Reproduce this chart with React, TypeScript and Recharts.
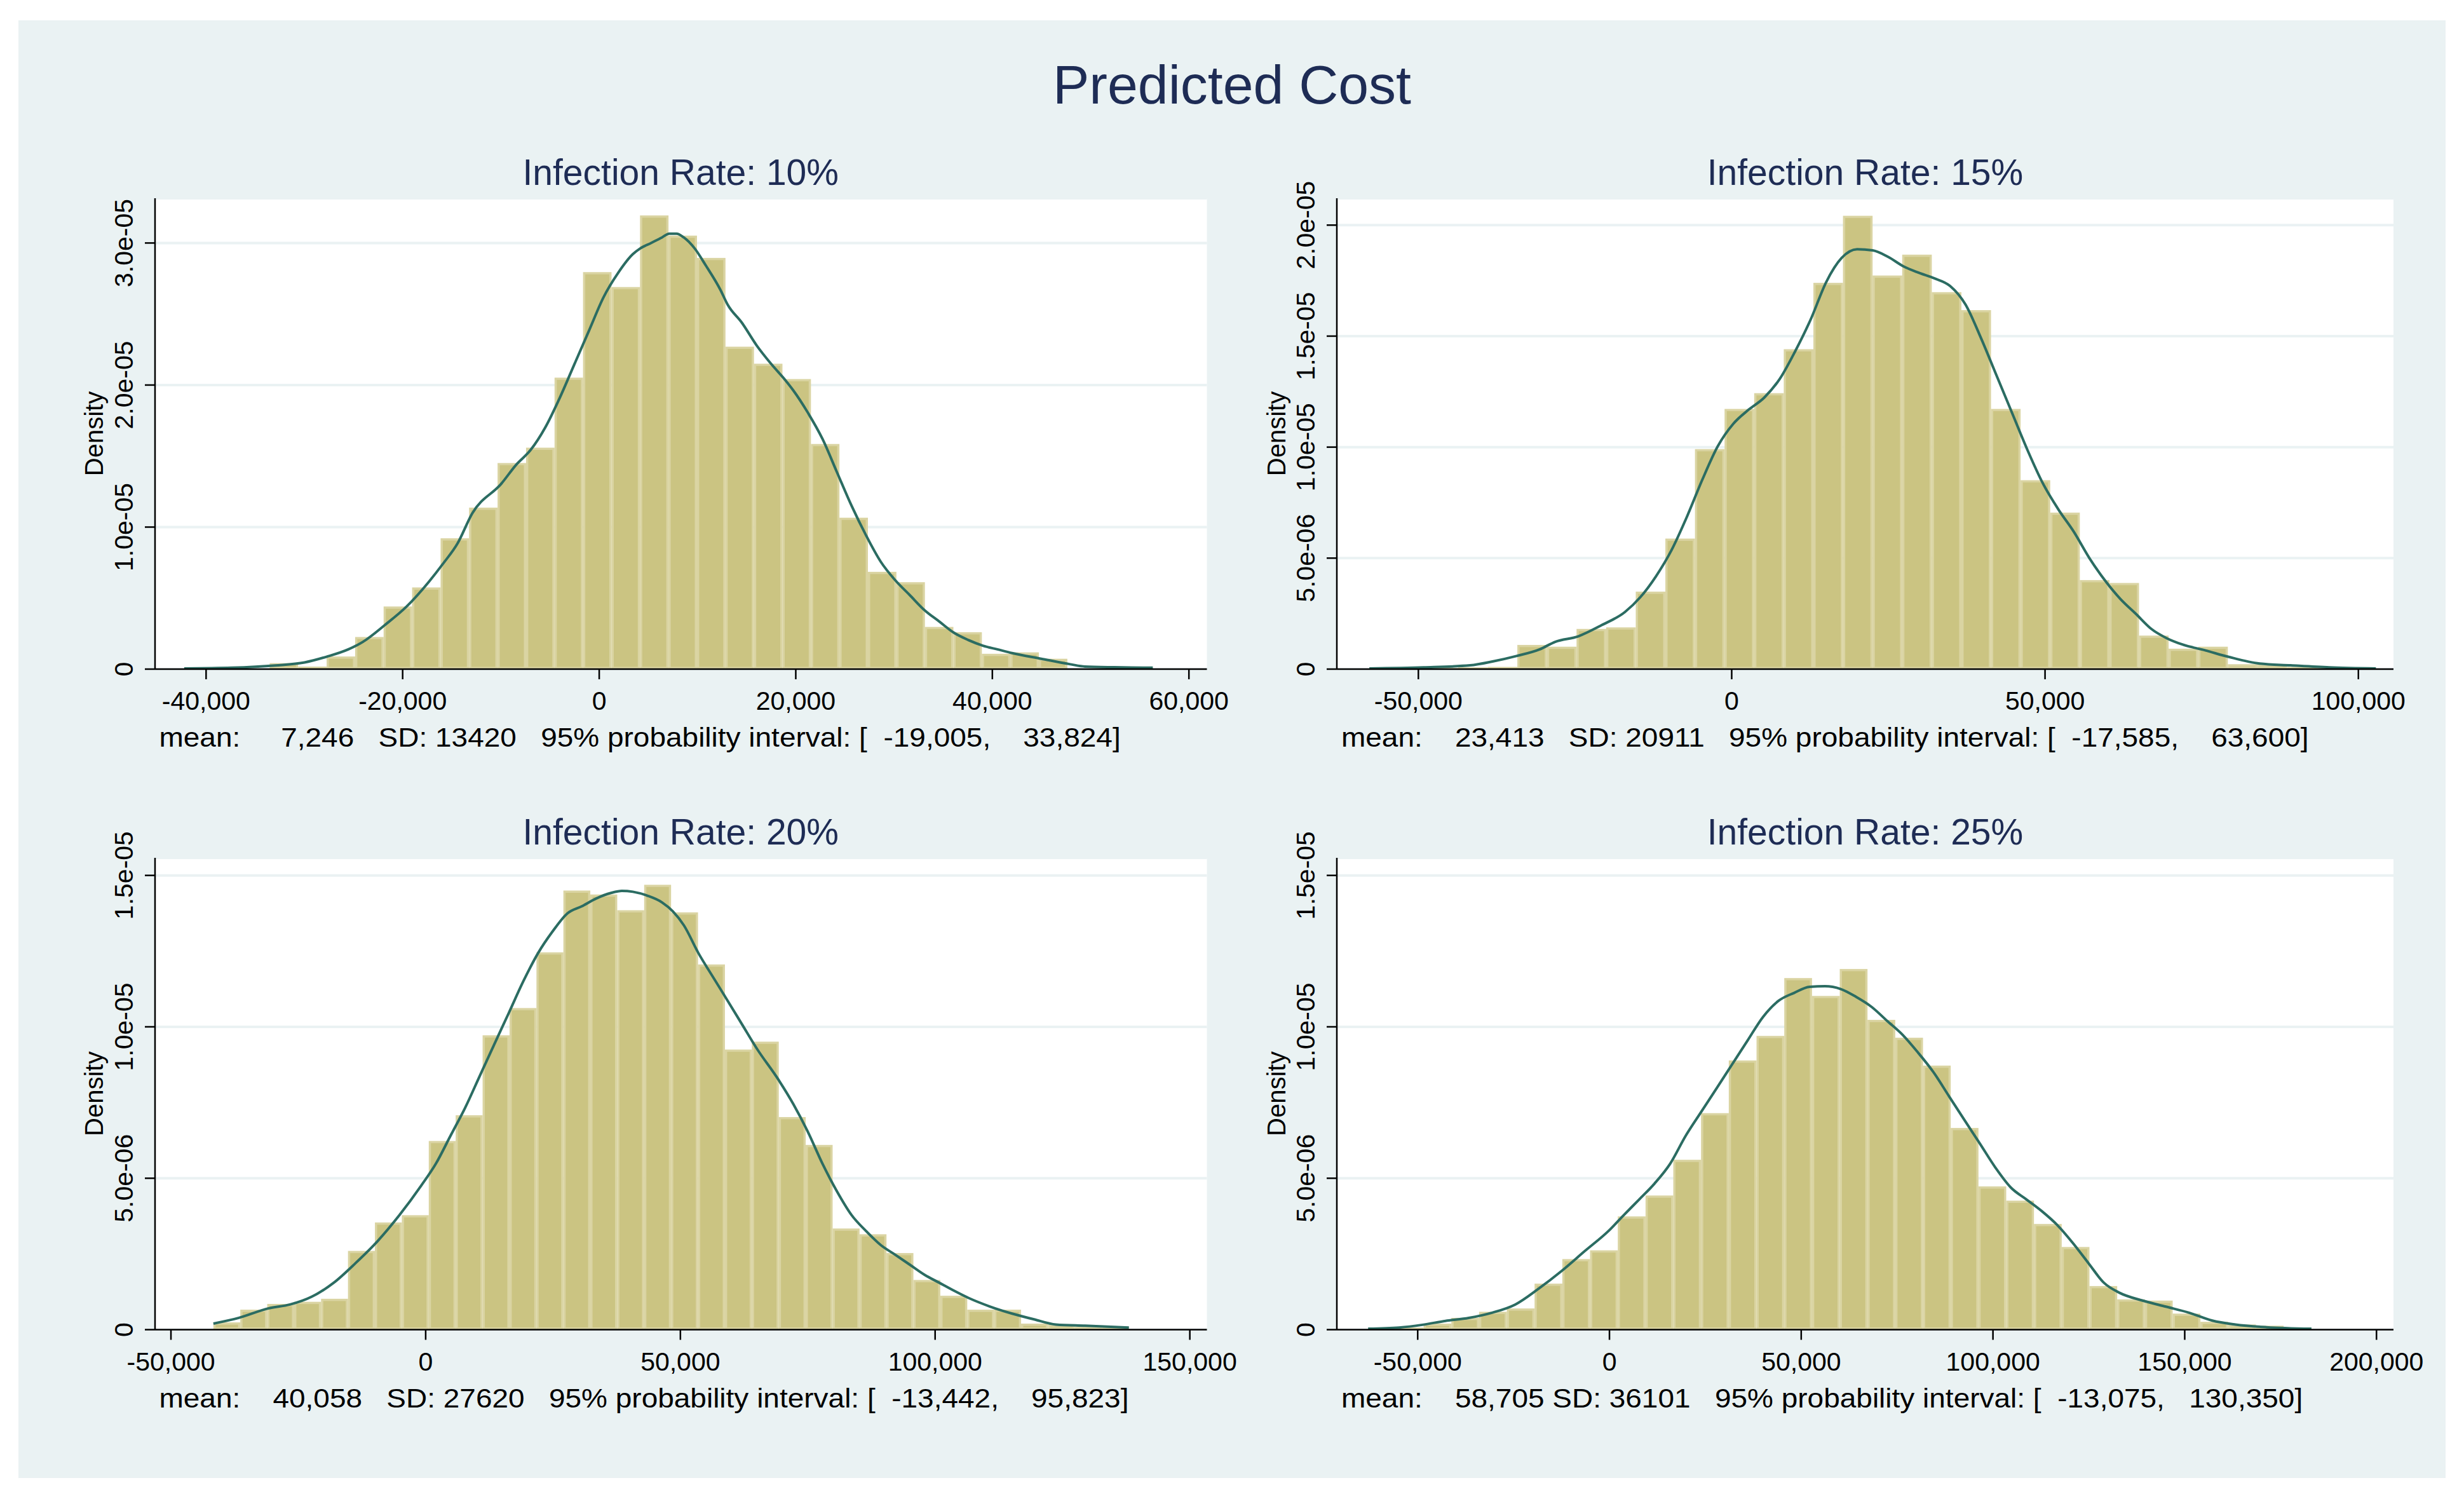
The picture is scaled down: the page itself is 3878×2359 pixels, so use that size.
import { ComposedChart, Bar, Line, XAxis, YAxis, CartesianGrid } from 'recharts'

const FONT = '"Liberation Sans", Arial, Helvetica, sans-serif'
const NAVY = '#1e2c55'
const PANEL_BG = '#eaf2f3'
const BAR_FILL = '#cbc482'
const BAR_LINE = '#dad4a2'
const KDE_COLOR = '#2b6c62'
const BAR_EDGE = 3.5

// axis box sizes inside each chart
const Y_W = 150
const X_H = 90
const M_T = 80
const M_R = 100

// densities are in units of 1e-6

// Infection Rate: 10%
const p10BinStart = -42226
const p10BinWidth = 2898.6
const p10Density = [0, 0, 0, 0.42, 0.18, 0.89, 2.26, 4.41, 5.75, 9.21, 11.37, 14.51, 15.59, 20.52, 27.95, 26.9, 31.94, 30.52, 28.95, 22.7, 21.5, 20.42, 15.85, 10.66, 6.85, 6.12, 2.97, 2.6, 1.08, 1.18, 0.73, 0.04, 0.02, 0.02]
const p10KdeX = [-42226, -37402, -32949, -29981, -27755, -25528, -24044, -21818, -19591, -17365, -15881, -14397, -12913, -9944, -8460, -6976, -5492, -4007, -2523, -1039, 445, 1929, 3414, 4156, 5269, 6382, 7124, 7866, 8608, 9722, 10835, 12319, 13061, 14545, 16029, 17514, 18998, 19740, 21224, 22708, 24192, 25677, 27161, 28645, 30129, 31613, 33098, 34582, 36066, 37550, 39034, 40519, 42003, 44971, 47940, 49424, 52392, 56327]
const p10KdeY = [0.05, 0.1, 0.26, 0.47, 0.87, 1.39, 1.92, 3.1, 4.41, 6.12, 7.43, 8.87, 10.97, 13.07, 14.38, 15.43, 17.01, 19.11, 21.47, 23.83, 26.19, 27.9, 29.21, 29.61, 30.0, 30.39, 30.66, 30.66, 30.39, 29.61, 28.43, 26.72, 25.67, 24.36, 22.78, 21.47, 20.29, 19.63, 18.06, 16.22, 13.86, 11.5, 9.4, 7.56, 6.25, 5.2, 4.15, 3.36, 2.57, 2.05, 1.65, 1.39, 1.13, 0.73, 0.34, 0.18, 0.13, 0.1]
const p10XTicks = [-40000, -20000, 0, 20000, 40000, 60000]
const p10YTicks = [0, 10, 20, 30]
const p10YLabels = ['0', '1.0e-05', '2.0e-05', '3.0e-05']
const p10Note = 'mean:     7,246   SD: 13420   95% probability interval: [  -19,005,    33,824]'

// Infection Rate: 15%
const p15BinStart = -57821
const p15BinWidth = 4724
const p15Density = [0.02, 0.02, 0.05, 0.08, 0.1, 1.09, 1.01, 1.81, 1.88, 3.49, 5.88, 9.91, 11.72, 12.43, 14.41, 17.4, 20.42, 17.73, 18.67, 16.98, 16.17, 11.72, 8.51, 7.05, 4.01, 3.88, 1.51, 0.92, 1.01, 0.22, 0.22, 0.1, 0.05, 0.03]
const p15KdeX = [-57821, -49173, -41760, -38053, -34347, -30640, -28169, -24463, -20756, -17050, -14579, -12108, -9637, -7166, -4695, -2224, 247, 2718, 5189, 7660, 10131, 12602, 15073, 17544, 20015, 22486, 24957, 27428, 29899, 32370, 34841, 37312, 39783, 42254, 44725, 47196, 49667, 52138, 54609, 57080, 59551, 62022, 64493, 66964, 69435, 71906, 75612, 79319, 84261, 89203, 95381, 102794]
const p15KdeY = [0.03, 0.08, 0.17, 0.35, 0.59, 0.89, 1.23, 1.48, 1.98, 2.57, 3.24, 4.17, 5.34, 6.85, 8.53, 10.04, 11.05, 11.69, 12.23, 13.07, 14.32, 15.75, 17.43, 18.52, 18.91, 18.86, 18.57, 18.14, 17.85, 17.6, 17.26, 16.42, 14.91, 13.23, 11.55, 9.87, 8.36, 7.19, 6.18, 5.0, 4.0, 3.16, 2.49, 1.81, 1.39, 1.11, 0.84, 0.55, 0.25, 0.17, 0.08, 0.03]
const p15XTicks = [-50000, 0, 50000, 100000]
const p15YTicks = [0, 5, 10, 15, 20]
const p15YLabels = ['0', '5.0e-06', '1.0e-05', '1.5e-05', '2.0e-05']
const p15Note = 'mean:    23,413   SD: 20911   95% probability interval: [  -17,585,    63,600]'

// Infection Rate: 20%
const p20BinStart = -41668
const p20BinWidth = 5285
const p20Density = [0.24, 0.66, 0.85, 0.92, 1.02, 2.6, 3.54, 3.78, 6.23, 7.08, 9.72, 10.62, 12.46, 14.5, 14.37, 13.85, 14.69, 13.78, 12.06, 9.25, 9.51, 7.02, 6.1, 3.34, 3.15, 2.53, 1.64, 1.12, 0.66, 0.66, 0.2, 0.17, 0.1, 0.1]
const p20KdeX = [-41668, -36657, -30929, -26633, -22338, -18042, -13746, -9451, -5155, -859, 2005, 4868, 7732, 10596, 13460, 16324, 19187, 22051, 24915, 27779, 30643, 33506, 36370, 38518, 40666, 43530, 46394, 48541, 50689, 53553, 56417, 59281, 62144, 65008, 69304, 72168, 75032, 77895, 80759, 83623, 86487, 89350, 92214, 95078, 97942, 100806, 103670, 106533, 110829, 115125, 119420, 123716, 129443, 138035]
const p20KdeY = [0.2, 0.39, 0.7, 0.83, 1.09, 1.55, 2.2, 2.92, 3.78, 4.76, 5.48, 6.4, 7.32, 8.37, 9.42, 10.46, 11.51, 12.43, 13.15, 13.74, 13.98, 14.24, 14.42, 14.49, 14.46, 14.33, 14.11, 13.81, 13.35, 12.43, 11.64, 10.86, 10.07, 9.28, 8.24, 7.45, 6.53, 5.48, 4.56, 3.78, 3.25, 2.79, 2.47, 2.14, 1.81, 1.55, 1.29, 1.05, 0.76, 0.53, 0.34, 0.17, 0.13, 0.07]
const p20XTicks = [-50000, 0, 50000, 100000, 150000]
const p20YTicks = [0, 5, 10, 15]
const p20YLabels = ['0', '5.0e-06', '1.0e-05', '1.5e-05']
const p20Note = 'mean:    40,058   SD: 27620   95% probability interval: [  -13,442,    95,823]'

// Infection Rate: 25%
const p25BinStart = -62925
const p25BinWidth = 7234
const p25Density = [0.04, 0.07, 0.2, 0.39, 0.59, 0.7, 1.52, 2.33, 2.62, 3.74, 4.43, 5.61, 7.15, 8.89, 9.7, 11.61, 11.02, 11.91, 10.23, 9.64, 8.72, 6.66, 4.73, 4.26, 3.49, 2.73, 1.44, 1.0, 0.96, 0.53, 0.26, 0.17, 0.13, 0.07]
const p25KdeX = [-62925, -54848, -48789, -42731, -36673, -30615, -24557, -18498, -12440, -6381, -323, 3716, 7755, 11793, 15832, 19871, 23910, 27949, 31987, 36026, 40065, 44104, 48143, 52181, 56220, 60259, 64298, 68337, 72375, 76414, 80453, 84492, 88530, 92569, 96608, 100647, 104686, 108724, 112763, 116802, 120841, 124880, 128918, 132957, 139015, 145073, 151132, 157190, 163248, 171326, 183038]
const p25KdeY = [0.03, 0.07, 0.16, 0.29, 0.39, 0.56, 0.83, 1.35, 1.94, 2.6, 3.25, 3.78, 4.3, 4.83, 5.48, 6.4, 7.19, 7.97, 8.76, 9.55, 10.33, 10.86, 11.12, 11.32, 11.34, 11.25, 10.99, 10.66, 10.2, 9.74, 9.15, 8.5, 7.71, 6.92, 6.14, 5.35, 4.69, 4.3, 3.91, 3.45, 2.86, 2.2, 1.55, 1.22, 0.96, 0.76, 0.56, 0.3, 0.17, 0.08, 0.03]
const p25XTicks = [-50000, 0, 50000, 100000, 150000, 200000]
const p25YTicks = [0, 5, 10, 15]
const p25YLabels = ['0', '5.0e-06', '1.0e-05', '1.5e-05']
const p25Note = 'mean:    58,705 SD: 36101   95% probability interval: [  -13,075,   130,350]'

const panels = [
  {
    title: 'Infection Rate: 10%',
    binStart: p10BinStart, binWidth: p10BinWidth, density: p10Density,
    kdeX: p10KdeX, kdeY: p10KdeY,
    xTicks: p10XTicks, yTicks: p10YTicks, yLabels: p10YLabels, note: p10Note,
    xDomain: [-45194, 61830], yDomain: [0, 33.15],
    box: { left: 243.5, top: 312, width: 1655.5, height: 741 },
  },
  {
    title: 'Infection Rate: 15%',
    binStart: p15BinStart, binWidth: p15BinWidth, density: p15Density,
    kdeX: p15KdeX, kdeY: p15KdeY,
    xTicks: p15XTicks, yTicks: p15YTicks, yLabels: p15YLabels, note: p15Note,
    xDomain: [-63010, 105600], yDomain: [0, 21.21],
    box: { left: 2104, top: 312, width: 1663, height: 741 },
  },
  {
    title: 'Infection Rate: 20%',
    binStart: p20BinStart, binWidth: p20BinWidth, density: p20Density,
    kdeX: p20KdeX, kdeY: p20KdeY,
    xTicks: p20XTicks, yTicks: p20YTicks, yLabels: p20YLabels, note: p20Note,
    xDomain: [-53123, 153350], yDomain: [0, 15.58],
    box: { left: 243.5, top: 1350, width: 1655.5, height: 742.5 },
  },
  {
    title: 'Infection Rate: 25%',
    binStart: p25BinStart, binWidth: p25BinWidth, density: p25Density,
    kdeX: p25KdeX, kdeY: p25KdeY,
    xTicks: p25XTicks, yTicks: p25YTicks, yLabels: p25YLabels, note: p25Note,
    xDomain: [-71083, 204430], yDomain: [0, 15.58],
    box: { left: 2104, top: 1350, width: 1663, height: 742.5 },
  },
]

type PanelCfg = (typeof panels)[number]

const fmtX = (v: number) => v.toLocaleString('en-US')

// bar drawn around the centre recharts gives, with the bin's own width and an inner light edge
function binShape(w: number) {
  return (p: any) => {
    if (p.payload?.density == null || !(p.height > 0)) return <g />
    const cx = p.x + p.width / 2
    const x0 = cx - w / 2
    const s = BAR_EDGE
    if (p.height <= s * 1.5) {
      return <rect x={x0} y={p.y} width={w} height={p.height} fill={BAR_LINE} />
    }
    return (
      <rect
        x={x0 + s / 2}
        y={p.y + s / 2}
        width={w - s}
        height={p.height - s}
        fill={BAR_FILL}
        stroke={BAR_LINE}
        strokeWidth={s}
      />
    )
  }
}

function yTick(labels: string[], ticks: number[]) {
  return (p: any) => {
    const { x, y, payload } = p
    const label = labels[ticks.indexOf(payload.value)] ?? ''
    return (
      <text
        x={x}
        y={y}
        transform={`rotate(-90 ${x} ${y})`}
        textAnchor="middle"
        fontSize={41}
        fontFamily={FONT}
        fill="#000"
      >
        {label}
      </text>
    )
  }
}

function Panel({ cfg }: { cfg: PanelCfg }) {
  const { box } = cfg
  const barPx = (cfg.binWidth / (cfg.xDomain[1] - cfg.xDomain[0])) * box.width
  const rows = [
    ...cfg.density.map((d, i) => ({ x: cfg.binStart + (i + 0.5) * cfg.binWidth, density: d })),
    ...cfg.kdeX.map((x, i) => ({ x, kde: cfg.kdeY[i] })),
  ].sort((a, b) => a.x - b.x)

  return (
    <div style={{ position: 'absolute', left: box.left - Y_W, top: box.top - M_T }}>
      <ComposedChart
        width={Y_W + box.width + M_R}
        height={M_T + box.height + X_H}
        data={rows}
        margin={{ top: M_T, right: M_R, bottom: 0, left: 0 }}
      >
        <CartesianGrid vertical={false} stroke={PANEL_BG} strokeWidth={4} fill="#fff" />
        <XAxis
          type="number"
          dataKey="x"
          domain={cfg.xDomain}
          ticks={cfg.xTicks}
          allowDataOverflow
          interval={0}
          height={X_H}
          tickSize={16}
          tickMargin={19}
          tickFormatter={fmtX}
          tick={{ fill: '#000', fontSize: 41, fontFamily: FONT }}
          tickLine={{ stroke: '#000', strokeWidth: 2.5 }}
          axisLine={{ stroke: '#000', strokeWidth: 2.5 }}
        />
        <YAxis
          type="number"
          domain={cfg.yDomain}
          ticks={cfg.yTicks}
          allowDataOverflow
          interval={0}
          width={Y_W}
          tickSize={16}
          tickMargin={19}
          tick={yTick(cfg.yLabels, cfg.yTicks)}
          tickLine={{ stroke: '#000', strokeWidth: 2.5 }}
          axisLine={{ stroke: '#000', strokeWidth: 2.5 }}
        />
        <Bar dataKey="density" barSize={2} shape={binShape(barPx)} isAnimationActive={false} />
        <Line
          dataKey="kde"
          type="monotone"
          stroke={KDE_COLOR}
          strokeWidth={4}
          dot={false}
          activeDot={false}
          connectNulls
          isAnimationActive={false}
        />
      </ComposedChart>
    </div>
  )
}

export default function App() {
  return (
    <div style={{ position: 'relative', width: 3878, height: 2359, background: '#fff', overflow: 'hidden' }}>
      <style>{'body{margin:0}'}</style>
      <div style={{ position: 'absolute', left: 29, top: 32, width: 3820, height: 2294, background: PANEL_BG }} />
      {panels.map((p) => (
        <Panel key={p.title} cfg={p} />
      ))}
      <svg
        width={3878}
        height={2359}
        style={{ position: 'absolute', left: 0, top: 0, pointerEvents: 'none' }}
        fontFamily={FONT}
      >
        <text x={1939} y={163} textAnchor="middle" fontSize={86} fill={NAVY}>
          Predicted Cost
        </text>
        {panels.map((p) => {
          const b = p.box
          const cy = b.top + b.height / 2
          const dx = b.left - 81.5
          const nx = b.left + 7
          const ny = b.top + b.height + 122
          return (
            <g key={p.title}>
              <text x={b.left + b.width / 2} y={b.top - 21.5} textAnchor="middle" fontSize={57} fill={NAVY}>
                {p.title}
              </text>
              <text x={dx} y={cy} transform={`rotate(-90 ${dx} ${cy})`} textAnchor="middle" fontSize={40} fill="#000">
                Density
              </text>
              <text
                x={0}
                y={0}
                transform={`translate(${nx} ${ny}) scale(1.095 1)`}
                fontSize={42}
                fill="#000"
                xmlSpace="preserve"
                style={{ whiteSpace: 'pre' }}
              >
                {p.note}
              </text>
            </g>
          )
        })}
      </svg>
    </div>
  )
}
